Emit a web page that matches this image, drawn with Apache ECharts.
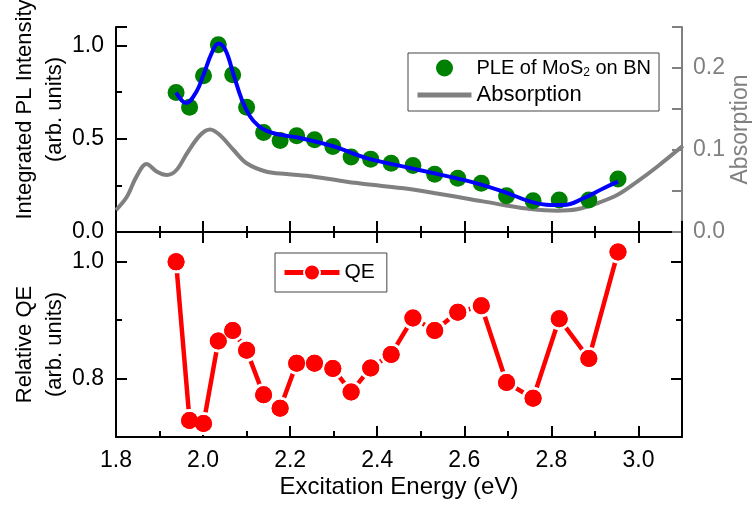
<!DOCTYPE html>
<html>
<head>
<meta charset="utf-8">
<script src="https://cdn.jsdelivr.net/npm/echarts@6/dist/echarts.min.js"></script>
<style>html,body{margin:0;padding:0;background:#fff}#c{width:754px;height:508px}</style>
</head>
<body>
<div id="c"></div>
<script>
// ---- data ----
const energy = [1.938,1.969,2.001,2.035,2.068,2.100,2.139,2.177,2.215,2.256,2.298,2.340,2.385,2.432,2.482,2.532,2.585,2.639,2.697,2.758,2.818,2.886,2.953];
const pleIntensity = [0.749,0.670,0.839,1.005,0.844,0.670,0.534,0.491,0.516,0.495,0.459,0.402,0.391,0.369,0.357,0.310,0.289,0.262,0.195,0.168,0.172,0.172,0.285];
const qeValue = [0.999,0.728,0.723,0.864,0.882,0.848,0.772,0.749,0.826,0.826,0.817,0.777,0.818,0.841,0.903,0.882,0.913,0.924,0.793,0.766,0.902,0.834,1.016];
const fitEnergy = [1.938,1.961,1.985,2.001,2.020,2.035,2.051,2.070,2.089,2.108,2.127,2.146,2.177,2.223,2.300,2.376,2.461,2.537,2.614,2.690,2.752,2.798,2.828,2.874,2.920,2.953];
const fitIntensity = [0.749,0.692,0.754,0.844,0.961,1.011,0.978,0.844,0.710,0.620,0.570,0.543,0.522,0.504,0.459,0.396,0.351,0.312,0.270,0.217,0.163,0.145,0.145,0.181,0.235,0.270];
const absEnergy = [1.800,1.825,1.847,1.870,1.894,1.917,1.939,1.963,1.993,2.016,2.039,2.070,2.100,2.146,2.192,2.254,2.330,2.407,2.461,2.537,2.614,2.690,2.752,2.813,2.859,2.905,2.951,2.997,3.043,3.102];
const absValue = [0.0268,0.043,0.0675,0.083,0.0735,0.0695,0.0756,0.096,0.118,0.125,0.118,0.100,0.0838,0.0735,0.0707,0.0675,0.0614,0.0565,0.0533,0.047,0.040,0.033,0.028,0.026,0.0277,0.035,0.045,0.0614,0.0796,0.105];
const xTickRange = [1.8, 3.1];
const plRange = [0, 1.1];
const absRange = [0, 0.25];
const qeRange = [0.7, 1.05];
const qeMajorTicks = [0.8, 1.0];
const qeMinorTicks = [0.9];

const zip = (a, b) => a.map((v, i) => [v, b[i]]);
const FONT = "'Liberation Sans', Arial, sans-serif";
const BLACK = '#000';
const GRAY = '#808080';

function xAx(grid, pos, labels) {
  return {
    type: 'value', gridIndex: grid, position: pos,
    min: xTickRange[0], max: xTickRange[1], interval: 0.2,
    axisLine: {show: true, lineStyle: {color: BLACK, width: 2}},
    axisTick: {show: true, inside: true, length: 11, lineStyle: {color: BLACK, width: 2}},
    minorTick: {show: true, splitNumber: 2, length: 6, lineStyle: {color: BLACK, width: 2}},
    splitLine: {show: false},
    axisLabel: labels ? {show: true, fontSize: 23, fontFamily: FONT, color: BLACK, margin: 12,
      showMaxLabel: false, formatter: v => v.toFixed(1)} : {show: false},
    name: labels ? 'Excitation Energy (eV)' : '',
    nameLocation: 'middle', nameGap: 38,
    nameTextStyle: {fontSize: 24, fontFamily: FONT, color: BLACK}
  };
}

const option = {
  animation: false,
  backgroundColor: '#fff',
  grid: [
    {left: 116, right: 72, top: 27, height: 205, outerBoundsMode: 'none', containLabel: false},
    {left: 116, right: 72, top: 232, height: 205, outerBoundsMode: 'none', containLabel: false}
  ],
  xAxis: [xAx(0, 'bottom', false), xAx(0, 'top', false), xAx(1, 'bottom', true), xAx(1, 'top', false)],
  yAxis: [
    {
      type: 'value', gridIndex: 0, position: 'left', min: plRange[0], max: plRange[1], interval: 0.5,
      axisLine: {show: true, lineStyle: {color: BLACK, width: 2}},
      axisTick: {show: true, inside: true, length: 11, lineStyle: {color: BLACK, width: 2}},
      minorTick: {show: true, splitNumber: 2, length: 6, lineStyle: {color: BLACK, width: 2}},
      splitLine: {show: false},
      axisLabel: {fontSize: 23, fontFamily: FONT, color: BLACK, margin: 12, showMaxLabel: false, formatter: v => v.toFixed(1)},
      name: 'Integrated PL Intensity\n(arb. units)', nameLocation: 'middle', nameRotate: 90, nameGap: 46,
      nameMoveOverlap: false,
      nameTextStyle: {fontSize: 22, fontFamily: FONT, color: BLACK, lineHeight: 30, padding: [0, 0, 0, 40]}
    },
    {
      type: 'value', gridIndex: 0, position: 'right', min: absRange[0], max: absRange[1], interval: 0.1,
      axisLine: {show: true, lineStyle: {color: GRAY, width: 2}},
      axisTick: {show: true, inside: true, length: 10, lineStyle: {color: GRAY, width: 2}},
      minorTick: {show: true, splitNumber: 2, length: 10, lineStyle: {color: GRAY, width: 2}},
      splitLine: {show: false},
      axisLabel: {fontSize: 23, fontFamily: FONT, color: GRAY, margin: 11, showMaxLabel: false, formatter: v => v.toFixed(1)},
      name: 'Absorption', nameLocation: 'middle', nameRotate: 90, nameGap: 47,
      nameMoveOverlap: false,
      nameTextStyle: {fontSize: 23, fontFamily: FONT, color: GRAY}
    },
    {
      type: 'value', gridIndex: 1, position: 'left', min: qeRange[0], max: qeRange[1], interval: 0.1,
      axisLine: {show: true, lineStyle: {color: BLACK, width: 2}},
      axisTick: {show: true, inside: true, length: 11, customValues: qeMajorTicks, lineStyle: {color: BLACK, width: 2}},
      splitLine: {show: false},
      axisLabel: {fontSize: 23, fontFamily: FONT, color: BLACK, margin: 12, customValues: qeMajorTicks, formatter: v => v.toFixed(1)},
      name: 'Relative QE\n(arb. units)', nameLocation: 'middle', nameRotate: 90, nameGap: 46,
      nameMoveOverlap: false,
      nameTextStyle: {fontSize: 22, fontFamily: FONT, color: BLACK, lineHeight: 30, padding: [0, 20, 0, 0]}
    },
    {
      type: 'value', gridIndex: 1, position: 'left', min: qeRange[0], max: qeRange[1], interval: 0.1,
      axisLine: {show: false},
      axisTick: {show: true, inside: true, length: 6, customValues: qeMinorTicks, lineStyle: {color: BLACK, width: 2}},
      splitLine: {show: false}, axisLabel: {show: false}
    },
    {
      type: 'value', gridIndex: 1, position: 'right', min: qeRange[0], max: qeRange[1], interval: 0.1,
      axisLine: {show: true, lineStyle: {color: BLACK, width: 2}},
      axisTick: {show: true, inside: true, length: 11, customValues: qeMajorTicks, lineStyle: {color: BLACK, width: 2}},
      splitLine: {show: false}, axisLabel: {show: false}
    },
    {
      type: 'value', gridIndex: 1, position: 'right', min: qeRange[0], max: qeRange[1], interval: 0.1,
      axisLine: {show: false},
      axisTick: {show: true, inside: true, length: 6, customValues: qeMinorTicks, lineStyle: {color: BLACK, width: 2}},
      splitLine: {show: false}, axisLabel: {show: false}
    }
  ],
  legend: [
    {
      orient: 'vertical', left: 408, top: 53,
      padding: [5, 8, 5, 7], itemGap: 5, itemWidth: 54, itemHeight: 17,
      borderColor: '#444', borderWidth: 1,
      textStyle: {fontFamily: FONT, color: BLACK, fontSize: 20,
        rich: {sub: {fontSize: 12, fontFamily: FONT, color: BLACK, padding: [10, 0, 0, 0]}}},
      formatter: n => n === 'PLE of MoS2 on BN' ? 'PLE of MoS{sub|2} on BN' : n,
      data: [
        {name: 'PLE of MoS2 on BN', textStyle: {fontSize: 20}},
        {name: 'Absorption', textStyle: {fontSize: 22}, itemStyle: {opacity: 0}, lineStyle: {width: 5}}
      ]
    },
    {
      orient: 'vertical', left: 275, top: 253,
      padding: [9, 12, 9, 7], itemWidth: 55, itemHeight: 20,
      borderColor: '#444', borderWidth: 1,
      textStyle: {fontFamily: FONT, color: BLACK, fontSize: 21},
      data: [{name: 'QE', lineStyle: {width: 5}}]
    }
  ],
  series: [
    {
      name: 'Absorption', type: 'line', xAxisIndex: 0, yAxisIndex: 1,
      data: zip(absEnergy, absValue), smooth: 0.35, symbol: 'none',
      lineStyle: {color: GRAY, width: 4}, itemStyle: {color: GRAY}, z: 2
    },
    {
      name: 'PLE of MoS2 on BN', type: 'scatter', xAxisIndex: 0, yAxisIndex: 0,
      data: zip(energy, pleIntensity), symbol: 'circle', symbolSize: 17,
      itemStyle: {color: '#008000', opacity: 1}, z: 3
    },
    {
      name: 'fit', type: 'line', xAxisIndex: 0, yAxisIndex: 0,
      data: zip(fitEnergy, fitIntensity), smooth: 0.4, symbol: 'none',
      lineStyle: {color: '#0000ff', width: 4}, z: 4
    },
    {
      name: 'QE', type: 'line', xAxisIndex: 2, yAxisIndex: 2,
      data: zip(energy, qeValue), symbol: 'circle', symbolSize: 20,
      lineStyle: {color: '#ff0000', width: 4.5},
      itemStyle: {color: '#ff0000', borderColor: '#fff', borderWidth: 3}, z: 3
    },
    {
      name: 'QEdots', type: 'scatter', xAxisIndex: 2, yAxisIndex: 2,
      data: zip(energy, qeValue), symbol: 'circle', symbolSize: 17,
      itemStyle: {color: '#ff0000', opacity: 1}, z: 4
    }
  ]
};
const chart = echarts.init(document.getElementById('c'), null, {renderer: 'canvas'});
chart.setOption(option);
</script>
</body>
</html>
